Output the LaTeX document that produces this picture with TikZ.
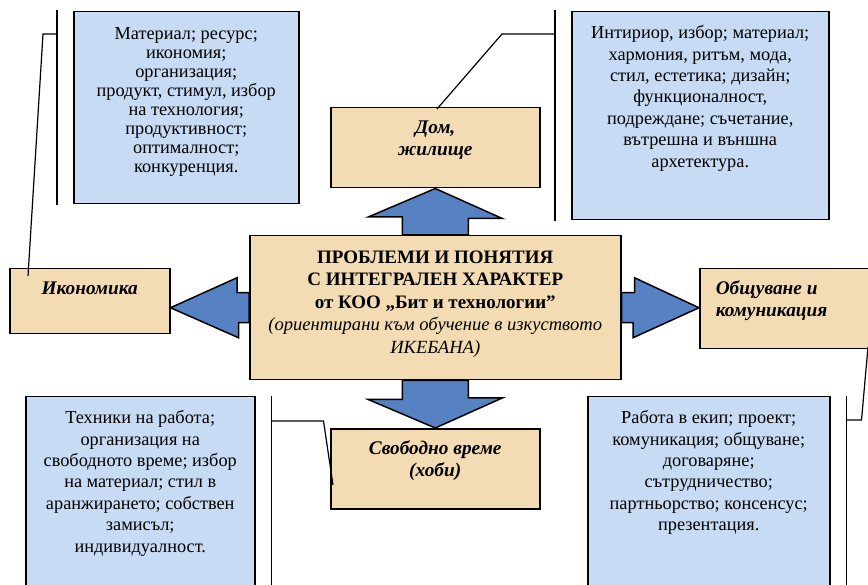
\documentclass[tikz,border=0pt]{standalone}
\usepackage{fontspec}
\setmainfont{Liberation Serif}

\definecolor{infoblue}{RGB}{200,219,244}
\definecolor{topictan}{RGB}{243,220,180}
\definecolor{arrowblue}{RGB}{86,130,196}

% text at the top of a box
\newcommand{\boxtext}[4][\centering]{\parbox[c][#3][t]{#2}{#1\strut #4}}

\begin{document}
\begin{tikzpicture}[x=1pt, y=-1pt,
    infobox/.style={draw, line width=1.5pt, fill=infoblue, inner xsep=8pt, inner ysep=12pt, anchor=north west, font=\fontsize{18.3}{21.4}\selectfont},
    topicbox/.style={draw, line width=1.5pt, fill=topictan, inner xsep=8pt, inner ysep=10pt, anchor=north west, font=\fontsize{19.3}{22.5}\selectfont\bfseries\itshape},
    blockarrow/.style={draw, line width=1.5pt, fill=arrowblue, line join=miter},
    leader/.style={draw, line width=1.2pt}]
    \useasboundingbox (0,0) rectangle (868,585);

    % 中央のボックス
    \node[topicbox, inner xsep=6pt, inner ysep=12pt, font=\fontsize{19}{22.5}\selectfont] (hub) at (249,235)
        {\boxtext{359pt}{120pt}{{\bfseries ПРОБЛЕМИ И ПОНЯТИЯ\\ С ИНТЕГРАЛЕН ХАРАКТЕР\\ от КОО „Бит и технологии”\\}{\itshape\fontsize{18.6}{22.5}\selectfont (ориентирани към обучение в изкуството\\ ИКЕБАНА)}}};

    % テーマのボックス
    \node[topicbox] (econ) at (9,268) {\boxtext{144pt}{45pt}{Икономика}};
    \node[topicbox] (home) at (330,107) {\boxtext{193pt}{60pt}{Дом,\\ жилище}};
    \node[topicbox, inner xsep=16pt] (comm) at (699,268) {\boxtext[\raggedright]{143pt}{60pt}{Общуване и\\ комуникация}};
    \node[topicbox] (free) at (330,428) {\boxtext{193pt}{60pt}{Свободно време\\ (хоби)}};

    % 説明のボックス
    \node[infobox, inner ysep=14pt, font=\fontsize{18.3}{19.1}\selectfont] (econInfo) at (73,11) {\boxtext{209pt}{164pt}{Материал; ресурс;\\ икономия;\\ организация;\\ продукт, стимул, избор\\ на технология;\\ продуктивност;\\ оптималност;\\ конкуренция.}};
    \node[infobox] (homeInfo) at (571,11) {\boxtext{241pt}{184pt}{Интириор, избор; материал;\\ хармония, ритъм, мода,\\ стил, естетика; дизайн;\\ функционалност,\\ подреждане; съчетание,\\ вътрешна и външна\\ архетектура.}};
    \node[infobox] (freeInfo) at (25,396) {\boxtext{213pt}{186pt}{Техники на работа;\\ организация на\\ свободното време; избор\\ на материал; стил в\\ аранжирането; собствен\\ замисъл;\\ индивидуалност.}};
    \node[infobox] (commInfo) at (587,396) {\boxtext{226pt}{186pt}{Работа в екип; проект;\\ комуникация; общуване;\\ договаряне;\\ сътрудничество;\\ партньорство; консенсус;\\ презентация.}};

    % 矢印
    \draw[blockarrow] ([xshift=-33pt]hub.north) -- ++(0,-18) -- ++(-34,0) -- (home.south) -- ++(67,30) -- ++(-34,0) -- ([xshift=33pt]hub.north) -- cycle;
    \draw[blockarrow] ([xshift=-33pt]hub.south) -- ++(0,19) -- ++(-34,0) -- (free.north) -- ++(67,-30) -- ++(-34,0) -- ([xshift=33pt]hub.south) -- cycle;
    \draw[blockarrow] ([yshift=15pt]hub.west) -- ++(-12,0) -- ++(0,-15) -- (econ.east |- hub.west) -- ++(68,30) -- ++(0,-15) -- ([yshift=-15pt]hub.west) -- cycle;
    \draw[blockarrow] ([yshift=15pt]hub.east) -- ++(13,0) -- ++(0,-15) -- (comm.west |- hub.east) -- ++(-66,30) -- ++(0,-15) -- ([yshift=-15pt]hub.east) -- cycle;

    % 引き出し線
    \coordinate (econTip) at (28,276);
    \coordinate (homeTip) at (437,109);
    \coordinate (freeTip) at (333,485);
    \coordinate (commTip) at (868,347);
    \draw[leader] ([xshift=-16pt,yshift=1pt]econInfo.north west) -- ([xshift=-16pt,yshift=-1pt]econInfo.south west);
    \draw[leader] ([xshift=-16pt,yshift=-23pt]econInfo.north west) -- ++(-14,0) -- (econTip);
    \draw[leader] ([xshift=-16pt,yshift=1pt]homeInfo.north west) -- ([xshift=-16pt,yshift=-1pt]homeInfo.south west);
    \draw[leader] ([xshift=-16pt,yshift=-23pt]homeInfo.north west) -- ++(-53,0) -- (homeTip);
    \draw[leader] ([xshift=16pt]freeInfo.north east) -- ([xshift=16pt]freeInfo.south east);
    \draw[leader] ([xshift=16pt,yshift=-25pt]freeInfo.north east) -- ++(52,0) -- (freeTip);
    \draw[leader] ([xshift=16pt]commInfo.north east) -- ([xshift=16pt]commInfo.south east);
    \draw[leader] ([xshift=16pt,yshift=-24pt]commInfo.north east) -- ++(15,0) -- (commTip);
\end{tikzpicture}
\end{document}
